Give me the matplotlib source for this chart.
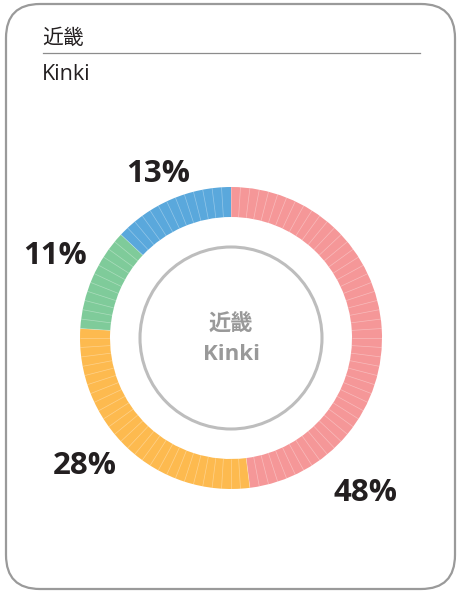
import matplotlib
matplotlib.use("Agg")
import matplotlib.pyplot as plt
import numpy as np
from matplotlib.patches import FancyBboxPatch, Circle

title_ja = "近畿"
title_en = "Kinki"
shares = [48, 28, 11, 13]
labels = ["48%", "28%", "11%", "13%"]
colors = ["#F59798", "#FDBA4F", "#7FCB9A", "#5AA8DC"]

W, H = 461, 595
fig = plt.figure(figsize=(W / 100, H / 100), dpi=100)
ax = fig.add_axes([0, 0, 1, 1])

fam = ["Open Sans", "Noto Sans CJK JP", "DejaVu Sans"]

def Y(y):
    return H - y

# card border
ax.add_patch(FancyBboxPatch((6, Y(589)), 449, 585, boxstyle="round,pad=0,rounding_size=34",
                            fc="white", ec="#9a9a9a", lw=1.6))

# header
ax.text(42, Y(38), title_ja, fontsize=15, family=fam, color="#231f20", va="center", ha="left")
ax.plot([43, 420], [Y(53), Y(53)], color="#8c8c8c", lw=0.9)
ax.text(42, Y(74), title_en, fontsize=15.5, family=fam, color="#231f20", va="center", ha="left")

# donut
cx, cy, R, w = 231, Y(338), 151, 30
ax.pie(shares, colors=colors, radius=R, center=(cx, cy), startangle=90, counterclock=False,
       wedgeprops=dict(width=w, linewidth=0), frame=True)
# faint 1% divider lines
n = sum(shares)
ang = np.deg2rad(90 - 360 * np.arange(n) / n)
for a in ang:
    ax.plot([cx + (R - w) * np.cos(a), cx + R * np.cos(a)],
            [cy + (R - w) * np.sin(a), cy + R * np.sin(a)],
            color="white", alpha=0.35, lw=0.5, solid_capstyle="butt")

ax.add_patch(Circle((cx, cy), 91, fill=False, ec="#bdbdbd", lw=2.2))
ax.text(cx, Y(325), title_ja, fontsize=16, family=fam, fontweight="bold", color="#999999",
        ha="center", va="center")
ax.text(cx, Y(354), title_en, fontsize=16, family=fam, fontweight="bold", color="#999999",
        ha="center", va="center")

label_pos = [(365, 493), (85, 466), (55, 256), (158, 174)]
for t, (x, y) in zip(labels, label_pos):
    ax.text(x, Y(y), t, fontsize=22.5, family=fam, fontweight="bold", color="#231f20",
            ha="center", va="center")

ax.set_xlim(0, W)
ax.set_ylim(0, H)
ax.set_aspect("equal")
ax.axis("off")

fig.savefig("out.png", dpi=100)
